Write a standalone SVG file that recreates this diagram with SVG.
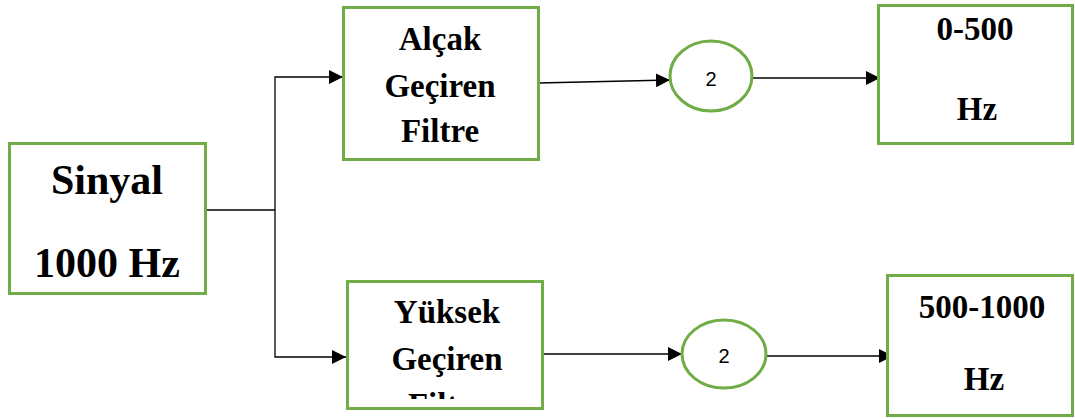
<svg xmlns="http://www.w3.org/2000/svg" width="1075" height="419" viewBox="0 0 1075 419">
<style>
.box{fill:#fff;stroke:#70AD47;stroke-width:3}
.t{font-family:"Liberation Serif","Times New Roman",serif;font-weight:bold;fill:#000;text-anchor:middle}
.n{font-family:"Liberation Sans",Arial,sans-serif;fill:#000;text-anchor:middle}
.c{fill:none;stroke:#000;stroke-width:1.3}
</style>
<defs>
<marker id="ah" markerUnits="userSpaceOnUse" markerWidth="16" markerHeight="14" refX="14" refY="7" orient="auto">
<path d="M0,0 L14,7 L0,14 Z" fill="#000"/>
</marker>
<clipPath id="clipY"><rect x="347" y="281" width="196" height="118"/></clipPath>
</defs>
<g id="connectors">
<polyline class="c" points="205,210 275,210"/>
<polyline class="c" points="275,210 275,77 343,77" marker-end="url(#ah)"/>
<polyline class="c" points="275,210 275,357 346,357" marker-end="url(#ah)"/>
<line class="c" x1="538" y1="83" x2="670" y2="80" marker-end="url(#ah)"/>
<line class="c" x1="752" y1="78" x2="880" y2="78" marker-end="url(#ah)"/>
<line class="c" x1="543" y1="354" x2="682" y2="354" marker-end="url(#ah)"/>
<line class="c" x1="766" y1="356" x2="893" y2="356" marker-end="url(#ah)"/>
</g>
<g id="sinyal">
<rect class="box" x="9.5" y="143.5" width="196" height="150"/>
<text class="t" x="107" y="194" font-size="42">Sinyal</text>
<text class="t" x="107" y="277" font-size="42">1000 Hz</text>
</g>
<g id="alcak">
<rect class="box" x="343.5" y="7.5" width="195" height="152"/>
<text class="t" x="440" y="50" font-size="33">Alçak</text>
<text class="t" x="440" y="97" font-size="33">Geçiren</text>
<text class="t" x="440" y="142" font-size="33">Filtre</text>
</g>
<g id="circle1">
<ellipse cx="711" cy="76" rx="41" ry="35" fill="#fff" stroke="#70AD47" stroke-width="3"/>
<text class="n" x="711" y="86" font-size="20">2</text>
</g>
<g id="out1">
<rect class="box" x="878.5" y="5.5" width="194" height="138"/>
<text class="t" x="975" y="40" font-size="33">0-500</text>
<text class="t" x="977" y="120" font-size="33">Hz</text>
</g>
<g id="yuksek">
<rect class="box" x="347.5" y="281.5" width="195" height="127"/>
<g clip-path="url(#clipY)">
<text class="t" x="447" y="323" font-size="33">Yüksek</text>
<text class="t" x="447" y="370" font-size="33">Geçiren</text>
<text class="t" x="447" y="416" font-size="33">Filtre</text>
</g>
</g>
<g id="circle2">
<ellipse cx="724" cy="354" rx="42" ry="34" fill="#fff" stroke="#70AD47" stroke-width="3"/>
<text class="n" x="724" y="363" font-size="20">2</text>
</g>
<g id="out2">
<rect class="box" x="887.5" y="275.5" width="185" height="140"/>
<text class="t" x="982" y="318" font-size="33">500-1000</text>
<text class="t" x="984" y="390" font-size="33">Hz</text>
</g>
</svg>
